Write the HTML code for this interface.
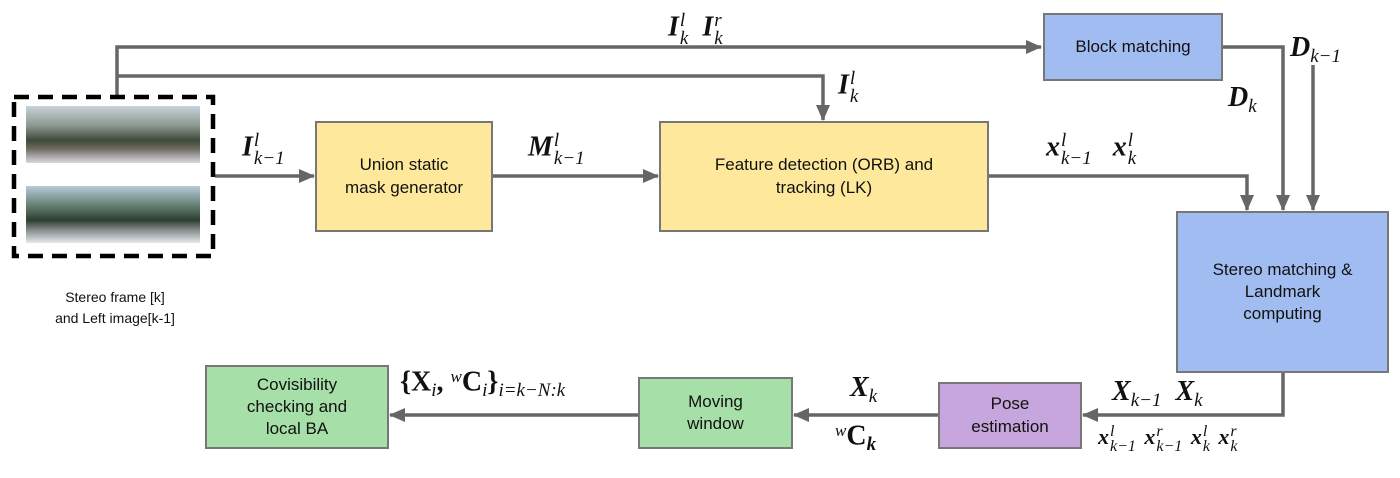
<!DOCTYPE html>
<html><head><meta charset="utf-8"><style>
body{margin:0;background:#fff;width:1400px;height:478px;overflow:hidden;position:relative;font-family:"Liberation Sans",sans-serif}
.b{position:absolute;border:2px solid #777;box-sizing:border-box;display:flex;align-items:center;justify-content:center;text-align:center;font-size:17px;color:#111;line-height:1.3}
.y{background:#fde89b}.bl{background:#a0bcf0}.p{background:#c6a6dc}.g{background:#a6e0a8}
.m{position:absolute;font-family:"Liberation Serif",serif;font-style:italic;font-weight:bold;font-size:28px;color:#111;white-space:nowrap;line-height:1}
.ss{display:inline-block;vertical-align:-0.45em;line-height:0.95;font-size:19px;font-weight:normal;margin-left:1px;text-align:left}
.ss i{display:block}
.sm{display:inline-block;font-size:19px;font-weight:normal;vertical-align:-0.3em}
.img{position:absolute;background:linear-gradient(180deg,#c9d2dc 0%,#8a968e 35%,#3e4a3a 60%,#6e6a60 75%,#d8dbe0 100%)}
</style></head><body>
<svg width="1400" height="478" style="position:absolute;left:0;top:0">
<defs><marker id="a" markerWidth="16" markerHeight="14" refX="15" refY="7" orient="auto" markerUnits="userSpaceOnUse"><path d="M0,0 L16,7 L0,14 z" fill="#666"/></marker></defs>
<g stroke="#666" stroke-width="3.5" fill="none">
<polyline points="117,95 117,47 1041,47" marker-end="url(#a)"/>
<polyline points="117,76 823,76 823,120" marker-end="url(#a)"/>
<line x1="215" y1="176" x2="314" y2="176" marker-end="url(#a)"/>
<line x1="493" y1="176" x2="658" y2="176" marker-end="url(#a)"/>
<polyline points="989,176 1247,176 1247,210" marker-end="url(#a)"/>
<polyline points="1223,47 1283,47 1283,210" marker-end="url(#a)"/>
<line x1="1313" y1="65" x2="1313" y2="210" marker-end="url(#a)"/>
<polyline points="1283,373 1283,415 1083,415" marker-end="url(#a)"/>
<line x1="938" y1="415" x2="794" y2="415" marker-end="url(#a)"/>
<line x1="638" y1="415" x2="390" y2="415" marker-end="url(#a)"/>
</g>
<rect x="14" y="97" width="199" height="159" fill="none" stroke="#000" stroke-width="4.5" stroke-dasharray="15,9"/>
</svg>
<div class="img" style="left:26px;top:106px;width:174px;height:57px"></div>
<div class="img" style="left:26px;top:186px;width:174px;height:57px;background:linear-gradient(180deg,#b8cad8 0%,#6e8a80 30%,#2e3e30 60%,#8a9090 78%,#e4eaee 100%)"></div>
<div style="position:absolute;left:20px;top:287px;width:190px;text-align:center;font-size:14px;line-height:1.5;color:#111">Stereo frame [k]<br>and Left image[k-1]</div>
<div class="b y" style="left:315px;top:121px;width:178px;height:111px">Union static<br>mask generator</div>
<div class="b y" style="left:659px;top:121px;width:330px;height:111px">Feature detection (ORB) and<br>tracking (LK)</div>
<div class="b bl" style="left:1043px;top:13px;width:180px;height:68px">Block matching</div>
<div class="b bl" style="left:1176px;top:211px;width:213px;height:162px">Stereo matching &amp;<br>Landmark<br>computing</div>
<div class="b p" style="left:938px;top:382px;width:144px;height:67px">Pose<br>estimation</div>
<div class="b g" style="left:638px;top:377px;width:155px;height:72px">Moving<br>window</div>
<div class="b g" style="left:205px;top:365px;width:184px;height:84px">Covisibility<br>checking and<br>local BA</div>
<div class="m" style="left:668px;top:12px">I<span class="ss"><i>l</i><i>k</i></span>&nbsp;&nbsp;I<span class="ss"><i>r</i><i>k</i></span></div>
<div class="m" style="left:838px;top:70px">I<span class="ss"><i>l</i><i>k</i></span></div>
<div class="m" style="left:242px;top:132px">I<span class="ss"><i>l</i><i>k−1</i></span></div>
<div class="m" style="left:528px;top:132px">M<span class="ss"><i>l</i><i>k−1</i></span></div>
<div class="m" style="left:1046px;top:132px">x<span class="ss"><i>l</i><i>k−1</i></span>&nbsp;&nbsp;&nbsp;x<span class="ss"><i>l</i><i>k</i></span></div>
<div class="m" style="left:1290px;top:34px">D<span class="sm">k−1</span></div>
<div class="m" style="left:1228px;top:84px">D<span class="sm">k</span></div>
<div class="m" style="left:1112px;top:378px">X<span class="sm">k−1</span>&nbsp;&nbsp;X<span class="sm">k</span></div>
<div class="m" style="left:1098px;top:424px;font-size:22px;word-spacing:3px">x<span class="ss" style="font-size:16px"><i>l</i><i>k−1</i></span> x<span class="ss" style="font-size:16px"><i>r</i><i>k−1</i></span> x<span class="ss" style="font-size:16px"><i>l</i><i>k</i></span> x<span class="ss" style="font-size:16px"><i>r</i><i>k</i></span></div>
<div class="m" style="left:850px;top:374px;width:40px;height:32px">X<span class="sm">k</span></div>
<div class="m" style="left:835px;top:422px;font-style:normal"><span style="font-size:17px;font-weight:normal;vertical-align:0.5em;font-style:italic">w</span>C<span class="sm" style="font-style:italic;font-weight:bold">k</span></div>
<div class="m" style="left:400px;top:368px;font-style:normal">{X<span class="sm" style="font-style:italic">i</span>, <span style="font-size:17px;font-weight:normal;vertical-align:0.5em;font-style:italic">w</span>C<span class="sm" style="font-style:italic">i</span>}<span class="sm" style="font-style:italic">i=k−N:k</span></div>
</body></html>
